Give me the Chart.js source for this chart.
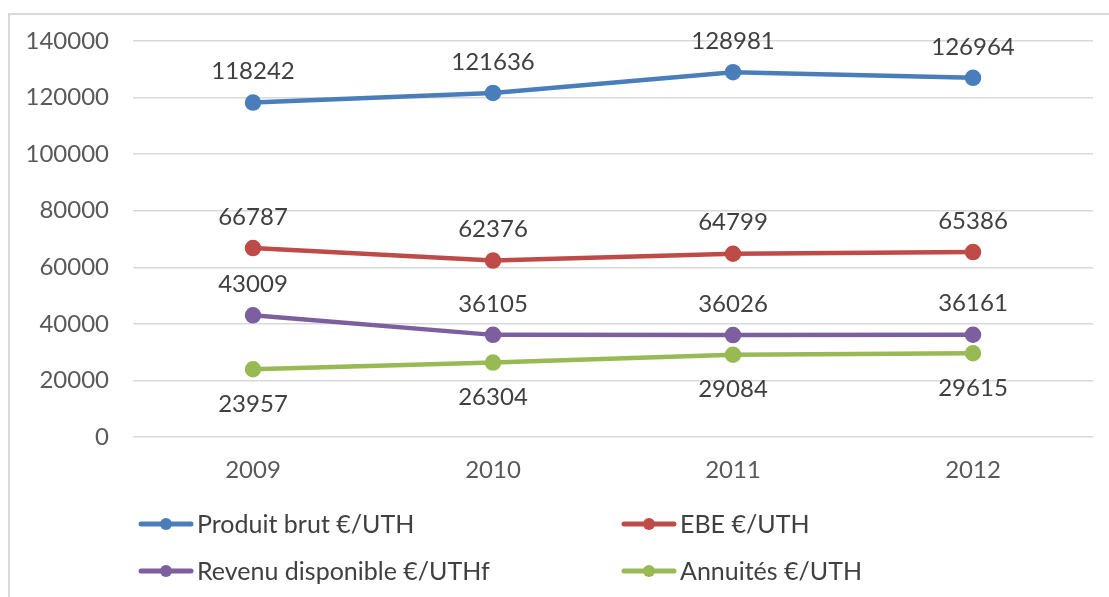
<!DOCTYPE html>
<html>
<head>
<meta charset="utf-8">
<script src="https://cdn.jsdelivr.net/npm/chart.js"></script>
<style>
  html, body { margin: 0; padding: 0; background: #fff; }
  #wrap { width: 1109px; height: 597px; position: relative; }
</style>
</head>
<body>
<div id="wrap"><canvas id="chart"></canvas></div>
<script>
const years = ['2009', '2010', '2011', '2012']
const produitBrut = [118242, 121636, 128981, 126964]
const ebe = [66787, 62376, 64799, 65386]
const revenuDispo = [43009, 36105, 36026, 36161]
const annuites = [23957, 26304, 29084, 29615]

const seriesNames = ['Produit brut €/UTH', 'EBE €/UTH', 'Revenu disponible €/UTHf', 'Annuités €/UTH']
const seriesColors = ['#4a7ebb', '#be4b48', '#7d5fa0', '#98b954']
const labelSide = ['above', 'above', 'above', 'below']

const FONT = 'Lato, "Open Sans", sans-serif'

// frame around the chart
const framePlugin = {
  id: 'frame',
  beforeDraw(chart) {
    const c = chart.ctx
    c.save()
    c.strokeStyle = '#d9d9d9'
    c.lineWidth = 2
    c.strokeRect(9, 14, 1110, 600)
    c.restore()
  }
}

// value labels above / below each point
const valueLabels = {
  id: 'valueLabels',
  afterDatasetsDraw(chart) {
    const c = chart.ctx
    c.save()
    c.font = '24px ' + FONT
    c.fillStyle = '#404040'
    c.textAlign = 'center'
    c.textBaseline = 'middle'
    chart.data.datasets.forEach((ds, i) => {
      chart.getDatasetMeta(i).data.forEach((pt, j) => {
        const dy = labelSide[i] === 'above' ? -31 : 35
        c.fillText(String(ds.data[j]), pt.x, pt.y + dy)
      })
    })
    c.restore()
  }
}

// excel style legend, two columns
const legendPlugin = {
  id: 'excelLegend',
  afterDraw(chart) {
    const c = chart.ctx
    const cols = [141, 624]
    const rows = [524, 571]
    c.save()
    c.font = '25px ' + FONT
    c.textBaseline = 'middle'
    c.textAlign = 'left'
    seriesNames.forEach((name, i) => {
      const x = cols[i % 2]
      const y = rows[Math.floor(i / 2)]
      c.strokeStyle = seriesColors[i]
      c.lineWidth = 5
      c.lineCap = 'round'
      c.beginPath()
      c.moveTo(x, y)
      c.lineTo(x + 50, y)
      c.stroke()
      c.fillStyle = seriesColors[i]
      c.beginPath()
      c.arc(x + 25, y, 6, 0, Math.PI * 2)
      c.fill()
      c.fillStyle = '#404040'
      c.fillText(name, x + 56, y + 1)
    })
    c.restore()
  }
}

const allSeries = [produitBrut, ebe, revenuDispo, annuites]

new Chart(document.getElementById('chart'), {
  type: 'line',
  data: {
    labels: years,
    datasets: allSeries.map((values, i) => ({
      label: seriesNames[i],
      data: values,
      borderColor: seriesColors[i],
      backgroundColor: seriesColors[i],
      borderWidth: 4.5,
      pointRadius: 6,
      pointHoverRadius: 6,
      tension: 0,
      fill: false
    }))
  },
  options: {
    responsive: true,
    maintainAspectRatio: false,
    animation: false,
    layout: { padding: { left: 8, right: 16, top: 41, bottom: 100 } },
    plugins: {
      legend: { display: false },
      tooltip: { enabled: false }
    },
    scales: {
      x: {
        offset: true,
        grid: { display: false, drawTicks: false },
        border: { display: false },
        ticks: {
          color: '#595959',
          font: { family: FONT, size: 24 },
          padding: 19
        },
        afterFit(scale) { scale.height = 60 }
      },
      y: {
        min: 0,
        max: 140000,
        grid: { color: '#d9d9d9', lineWidth: 1.5, drawTicks: false },
        border: { display: false },
        ticks: {
          stepSize: 20000,
          color: '#595959',
          font: { family: FONT, size: 24 },
          padding: 24,
          callback: (v) => String(v)
        },
        afterFit(scale) { scale.width = 125 }
      }
    }
  },
  plugins: [framePlugin, valueLabels, legendPlugin]
})
</script>
</body>
</html>
